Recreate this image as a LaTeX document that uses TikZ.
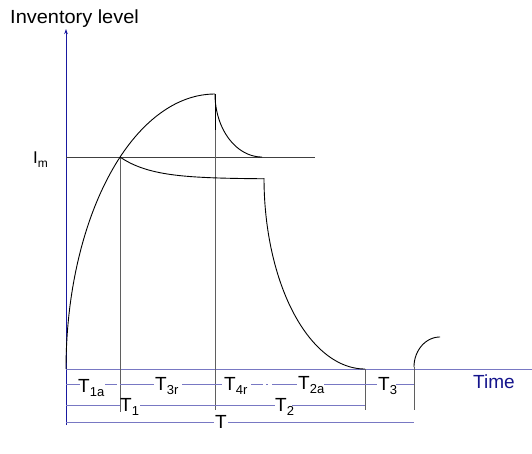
\documentclass[tikz,border=0pt]{standalone}
\usepackage{fontspec}
\setmainfont{Liberation Sans}
\usetikzlibrary{arrows.meta}
\definecolor{axisblue}{RGB}{25,25,160}
\definecolor{rowblue}{RGB}{120,120,195}
\definecolor{vgrey}{RGB}{95,95,95}
\definecolor{timeblue}{RGB}{20,20,140}
\newcommand{\Tlab}[1]{T\raisebox{-0.45ex}{\fontsize{13}{13}\selectfont #1}}
\begin{document}
\begin{tikzpicture}[x=1pt,y=-1pt,
  lbl/.style={font=\fontsize{19}{22}\selectfont, inner sep=0pt, anchor=base west},
  rowline/.style={rowblue, line width=1pt},
  curve/.style={black, line width=0.9pt},
  vline/.style={vgrey, line width=0.8pt},
  imline/.style={black!75, line width=0.7pt}]
\useasboundingbox (0,0) rectangle (532,453);
% named points
\coordinate (O) at (66,369);
\coordinate (ytop) at (66,29);
\coordinate (ybot) at (66,425);
\coordinate (xend) at (532,369);
\coordinate (A) at (120,157);
\coordinate (P) at (215,94);
\coordinate (Q) at (262,157);
\coordinate (R) at (264,178.8);
\coordinate (S) at (365,369);
% texts
\node[lbl, xscale=1.05] (ylab) at (10,23) {Inventory level};
\node[lbl, font=\fontsize{17}{20}\selectfont] (im) at (33,163) {I\raisebox{-0.45ex}{\fontsize{12}{12}\selectfont m}};
\node[lbl, text=timeblue] (time) at (473,388) {Time};
% axes
\draw[axisblue, line width=0.9pt, -{Stealth[length=5pt,width=3.5pt]}] (ybot) -- (ytop);
\draw[rowline] (O) -- (xend);
% Im line
\draw[imline] (66,157) -- (315,157);
% vertical guides
\draw[vline] (A) -- (120,412);
\draw[vline] (P) -- (215,410);
\draw[curve, line width=1pt] (P) -- (215,130);
\draw[vline] (S) -- (365,410);
\draw[vline] (414,367) -- (414,410);
% curves
\draw[curve] plot[domain=180:270, samples=80, variable=\t] ({215+149*cos(\t)}, {369+275*sin(\t)});
\draw[curve] plot[domain=180:90, samples=60, variable=\t] ({262+47*cos(\t)}, {94+63*sin(\t)});
\draw[curve] plot[domain=120:264, samples=60, variable=\x] (\x, {157+22*(1-exp(-(\x-120)/32))});
\draw[curve] plot[domain=180:90, samples=80, variable=\t] ({365+101*cos(\t)}, {178+191*sin(\t)});
\draw[curve] plot[domain=180:270, samples=40, variable=\t] ({440+26*cos(\t)}, {367+30*sin(\t)});
% row B
\draw[rowline] (66,384) -- (80,384);
\draw[rowline] (105,384) -- (117,384);
\draw[rowline] (120,384) -- (154,384);
\draw[rowline] (182,384) -- (222,384);
\draw[rowline] (251,384) -- (263,384);
\draw[rowline] (266,384) -- (268,384);
\draw[rowline] (272,384) -- (297,384);
\draw[rowline] (324,384) -- (365,384);
\draw[rowline] (365,384) -- (377,384);
\draw[rowline] (396,384) -- (414,384);
\node[lbl] (t1a) at (78,392) {\Tlab{1a}};
\node[lbl] (t3r) at (155,390) {\Tlab{3r}};
\node[lbl] (t4r) at (224,390) {\Tlab{4r}};
\node[lbl] (t2a) at (298,389) {\Tlab{2a}};
\node[lbl] (t3) at (378,390) {\Tlab{3}};
% row C
\draw[rowline] (66,405) -- (120,405);
\draw[rowline] (140,405) -- (275,405);
\draw[rowline] (292,405) -- (365,405);
\node[lbl] (t1) at (120,411) {\Tlab{1}};
\node[lbl] (t2) at (275,411) {\Tlab{2}};
% row D
\draw[rowline] (66,422) -- (214,422);
\draw[rowline] (228,422) -- (414,422);
\node[lbl] (tt) at (215,428) {T};
\end{tikzpicture}
\end{document}
